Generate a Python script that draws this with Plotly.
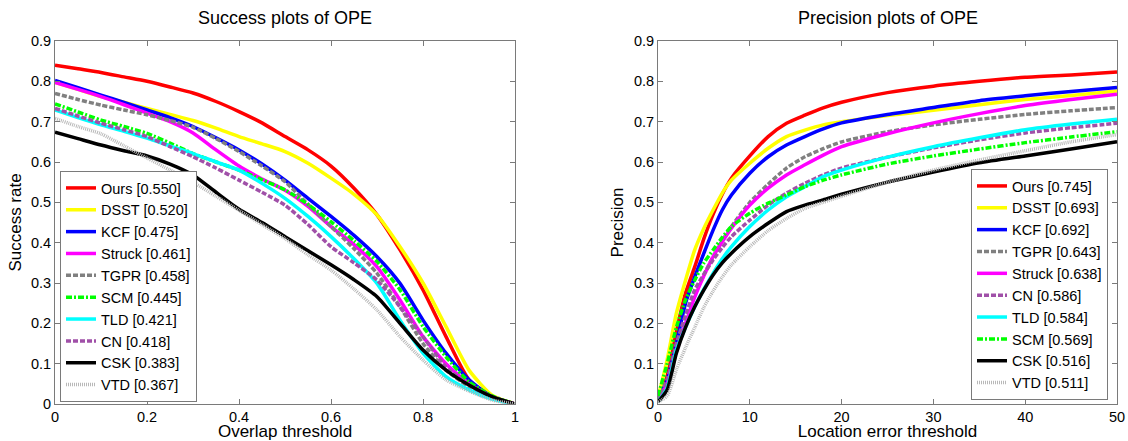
import plotly.graph_objects as go
from plotly.subplots import make_subplots

# ---------------- data ----------------
SUCCESS_X = [0, 0.05, 0.1, 0.15, 0.2, 0.25, 0.3, 0.35, 0.4, 0.45, 0.5,
             0.55, 0.6, 0.65, 0.7, 0.75, 0.8, 0.85, 0.9, 0.95, 1.0]

succ_ours = [0.840, 0.831, 0.822, 0.811, 0.800, 0.786, 0.771, 0.750, 0.725, 0.697, 0.663,
             0.630, 0.590, 0.535, 0.469, 0.382, 0.283, 0.167, 0.060, 0.018, 0.0]
succ_dsst = [0.797, 0.780, 0.762, 0.748, 0.733, 0.718, 0.703, 0.684, 0.663, 0.645, 0.626,
             0.597, 0.560, 0.520, 0.469, 0.390, 0.300, 0.192, 0.084, 0.022, 0.0]
succ_kcf = [0.802, 0.784, 0.766, 0.748, 0.729, 0.710, 0.688, 0.660, 0.630, 0.595, 0.555,
            0.510, 0.465, 0.418, 0.365, 0.299, 0.208, 0.126, 0.060, 0.018, 0.0]
succ_struck = [0.797, 0.780, 0.762, 0.742, 0.721, 0.700, 0.672, 0.630, 0.590, 0.558, 0.530,
               0.490, 0.440, 0.395, 0.340, 0.258, 0.167, 0.100, 0.050, 0.018, 0.0]
succ_tgpr = [0.770, 0.755, 0.741, 0.729, 0.717, 0.703, 0.686, 0.658, 0.626, 0.590, 0.551,
             0.495, 0.440, 0.385, 0.324, 0.241, 0.150, 0.084, 0.043, 0.015, 0.0]
succ_scm = [0.744, 0.724, 0.704, 0.688, 0.671, 0.647, 0.621, 0.600, 0.580, 0.556, 0.531,
            0.495, 0.452, 0.405, 0.353, 0.283, 0.192, 0.117, 0.055, 0.020, 0.0]
succ_tld = [0.729, 0.710, 0.692, 0.676, 0.659, 0.640, 0.621, 0.600, 0.580, 0.547, 0.510,
            0.465, 0.415, 0.360, 0.299, 0.208, 0.126, 0.068, 0.035, 0.012, 0.0]
succ_cn = [0.733, 0.714, 0.696, 0.680, 0.663, 0.638, 0.613, 0.585, 0.555, 0.525, 0.493,
           0.445, 0.390, 0.350, 0.307, 0.241, 0.167, 0.092, 0.047, 0.018, 0.0]
succ_csk = [0.674, 0.658, 0.642, 0.628, 0.615, 0.595, 0.568, 0.525, 0.483, 0.450, 0.415,
            0.380, 0.345, 0.308, 0.266, 0.200, 0.134, 0.084, 0.047, 0.018, 0.0]
succ_vtd = [0.708, 0.688, 0.670, 0.640, 0.610, 0.580, 0.550, 0.515, 0.480, 0.445, 0.410,
            0.370, 0.332, 0.285, 0.233, 0.167, 0.109, 0.060, 0.032, 0.010, 0.0]

PREC_X = [0, 1, 2, 3, 4, 5, 6, 7, 8, 10, 12, 14, 16, 18, 20, 25, 30, 35, 40, 45, 50]

prec_ours = [0.010, 0.070, 0.180, 0.275, 0.340, 0.410, 0.470, 0.520, 0.560, 0.615, 0.663,
             0.696, 0.716, 0.734, 0.748, 0.772, 0.788, 0.800, 0.810, 0.816, 0.823]
prec_dsst = [0.015, 0.110, 0.225, 0.307, 0.382, 0.436, 0.481, 0.523, 0.555, 0.597, 0.634,
             0.663, 0.679, 0.692, 0.700, 0.715, 0.728, 0.742, 0.755, 0.765, 0.776]
prec_kcf = [0.010, 0.060, 0.150, 0.250, 0.315, 0.374, 0.431, 0.481, 0.518, 0.572, 0.613,
            0.642, 0.663, 0.682, 0.697, 0.718, 0.735, 0.752, 0.764, 0.775, 0.785]
prec_tgpr = [0.010, 0.060, 0.140, 0.210, 0.270, 0.320, 0.365, 0.405, 0.440, 0.500, 0.545,
             0.585, 0.613, 0.633, 0.650, 0.675, 0.692, 0.706, 0.718, 0.727, 0.735]
prec_struck = [0.010, 0.050, 0.130, 0.200, 0.265, 0.318, 0.365, 0.402, 0.436, 0.493, 0.535,
               0.568, 0.593, 0.617, 0.638, 0.670, 0.697, 0.720, 0.740, 0.755, 0.768]
prec_cn = [0.010, 0.060, 0.150, 0.220, 0.283, 0.322, 0.357, 0.388, 0.415, 0.456, 0.493,
           0.523, 0.547, 0.568, 0.585, 0.612, 0.635, 0.655, 0.672, 0.685, 0.696]
prec_tld = [0.005, 0.040, 0.134, 0.190, 0.241, 0.285, 0.324, 0.360, 0.390, 0.440, 0.481,
            0.514, 0.539, 0.564, 0.580, 0.612, 0.638, 0.660, 0.680, 0.694, 0.706]
prec_scm = [0.020, 0.100, 0.190, 0.258, 0.307, 0.350, 0.382, 0.413, 0.440, 0.473, 0.498,
            0.518, 0.539, 0.555, 0.568, 0.595, 0.615, 0.632, 0.648, 0.662, 0.675]
prec_csk = [0.005, 0.035, 0.126, 0.190, 0.241, 0.283, 0.320, 0.350, 0.374, 0.415, 0.448,
            0.477, 0.493, 0.506, 0.520, 0.550, 0.575, 0.598, 0.615, 0.632, 0.650]
prec_vtd = [0.005, 0.020, 0.085, 0.140, 0.190, 0.240, 0.280, 0.315, 0.345, 0.390, 0.430,
            0.460, 0.485, 0.500, 0.515, 0.550, 0.580, 0.605, 0.628, 0.650, 0.668]

SUCCESS_NAMES = ["Ours [0.550]", "DSST [0.520]", "KCF [0.475]", "Struck [0.461]", "TGPR [0.458]",
                 "SCM [0.445]", "TLD [0.421]", "CN [0.418]", "CSK [0.383]", "VTD [0.367]"]
PREC_NAMES = ["Ours [0.745]", "DSST [0.693]", "KCF [0.692]", "TGPR [0.643]", "Struck [0.638]",
              "CN [0.586]", "TLD [0.584]", "SCM [0.569]", "CSK [0.516]", "VTD [0.511]"]

Y_TICKS = [0, 0.1, 0.2, 0.3, 0.4, 0.5, 0.6, 0.7, 0.8, 0.9]
Y_TICKTEXT = ["0", "0.1", "0.2", "0.3", "0.4", "0.5", "0.6", "0.7", "0.8", "0.9"]
X1_TICKS = [0, 0.2, 0.4, 0.6, 0.8, 1]
X1_TICKTEXT = ["0", "0.2", "0.4", "0.6", "0.8", "1"]
X2_TICKS = [0, 10, 20, 30, 40, 50]

# ---------------- styles ----------------
STYLE = {
    "Ours": dict(color="#FF0000", dash="solid"),
    "DSST": dict(color="#FFFF00", dash="solid"),
    "KCF": dict(color="#0000FF", dash="solid"),
    "Struck": dict(color="#FF00FF", dash="solid"),
    "TGPR": dict(color="#808080", dash="5px,2px"),
    "SCM": dict(color="#00FF00", dash="6px,2px,2px,2px"),
    "TLD": dict(color="#00FFFF", dash="solid"),
    "CN": dict(color="#A050A8", dash="5px,2px"),
    "CSK": dict(color="#000000", dash="solid"),
    "VTD": dict(color="#B8B8B8", dash="1px,1px"),
}

succ_series = [succ_ours, succ_dsst, succ_kcf, succ_struck, succ_tgpr,
               succ_scm, succ_tld, succ_cn, succ_csk, succ_vtd]
prec_series = [prec_ours, prec_dsst, prec_kcf, prec_tgpr, prec_struck,
               prec_cn, prec_tld, prec_scm, prec_csk, prec_vtd]

W, H = 1128, 441
fig = make_subplots(rows=1, cols=2)

LW = 3.5
for name, ys in zip(SUCCESS_NAMES, succ_series):
    st = STYLE[name.split(" ")[0]]
    fig.add_trace(go.Scatter(x=SUCCESS_X, y=ys, mode="lines", name=name,
                             line=dict(color=st["color"], dash=st["dash"], width=LW,
                                       shape="spline", smoothing=0.6),
                             legend="legend"), row=1, col=1)

for name, ys in zip(PREC_NAMES, prec_series):
    st = STYLE[name.split(" ")[0]]
    fig.add_trace(go.Scatter(x=PREC_X, y=ys, mode="lines", name=name,
                             line=dict(color=st["color"], dash=st["dash"], width=LW,
                                       shape="spline", smoothing=0.6),
                             legend="legend2"), row=1, col=2)

FONT = "Liberation Sans, Arial, sans-serif"
axis_common = dict(showline=True, linecolor="#7a7a7a", linewidth=1, mirror="allticks",
                   ticks="inside", ticklen=5, tickcolor="#7a7a7a", showgrid=False, zeroline=False,
                   automargin=False,
                   tickfont=dict(family=FONT, size=14.5, color="#000000"),
                   title_font=dict(family=FONT, size=17, color="#000000"))

y0, y1 = 1 - 404 / H, 1 - 41 / H
fig.update_xaxes(axis_common)
fig.update_yaxes(axis_common)
fig.update_layout(
    xaxis=dict(domain=[55 / W, 515 / W], range=[0, 1], tickvals=X1_TICKS, ticktext=X1_TICKTEXT,
               title=dict(text="Overlap threshold", standoff=5)),
    yaxis=dict(domain=[y0, y1], range=[0, 0.9], tickvals=Y_TICKS, ticktext=Y_TICKTEXT,
               title=dict(text="Success rate", standoff=4)),
    xaxis2=dict(domain=[658 / W, 1117 / W], range=[0, 50], tickvals=X2_TICKS,
                title=dict(text="Location error threshold", standoff=5)),
    yaxis2=dict(domain=[y0, y1], range=[0, 0.9], tickvals=Y_TICKS, ticktext=Y_TICKTEXT,
                title=dict(text="Precision", standoff=5)),
    width=W, height=H,
    margin=dict(l=0, r=0, t=0, b=0, autoexpand=False),
    paper_bgcolor="white", plot_bgcolor="white",
    font=dict(family=FONT, color="#000000"),
    legend=dict(x=60 / W, y=1 - 402 / H, xanchor="left", yanchor="bottom",
                bgcolor="white", bordercolor="#7a7a7a", borderwidth=1,
                font=dict(family=FONT, size=14.5, color="#000000"),
                tracegroupgap=0, itemwidth=30),
    legend2=dict(x=1108 / W, y=1 - 400 / H, xanchor="right", yanchor="bottom",
                 bgcolor="white", bordercolor="#7a7a7a", borderwidth=1,
                 font=dict(family=FONT, size=14.5, color="#000000"),
                 tracegroupgap=0, itemwidth=30),
    annotations=[
        dict(text="Success plots of OPE", x=(55 + 515) / 2 / W, y=1 - 18 / H, xref="paper", yref="paper",
             showarrow=False, font=dict(family=FONT, size=18, color="#000000"),
             xanchor="center", yanchor="middle"),
        dict(text="Precision plots of OPE", x=(658 + 1117) / 2 / W, y=1 - 18 / H, xref="paper", yref="paper",
             showarrow=False, font=dict(family=FONT, size=18, color="#000000"),
             xanchor="center", yanchor="middle"),
    ],
    showlegend=True,
)

fig.write_html("out.html", config={"displayModeBar": False},
               post_script="document.body.style.margin='0';document.body.style.padding='0';")
